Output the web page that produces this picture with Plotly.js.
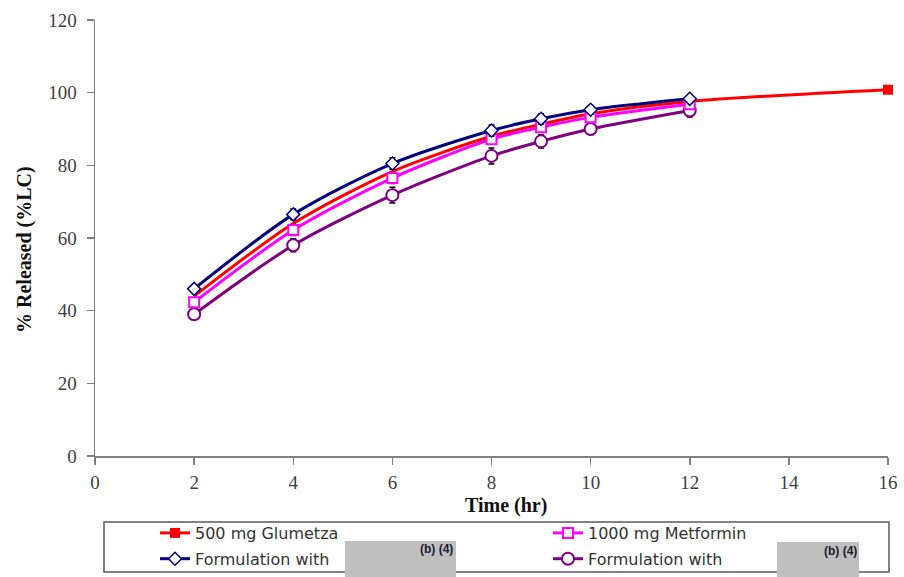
<!DOCTYPE html>
<html>
<head>
<meta charset="utf-8">
<script src="https://cdn.plot.ly/plotly-3.0.1.min.js"></script>
<style>html,body{margin:0;padding:0;background:#fff;}#chart{width:904px;height:577px;}</style>
</head>
<body>
<div id="chart"></div>
<script>
// Data
const timeRed = [2, 4, 6, 8, 9, 10, 12, 16];
const glumetza = [44, 64, 78.3, 88, 91.3, 94.2, 97.6, 100.8];

const timeLab = [2, 4, 6, 8, 9, 10, 12];
const metformin = [42.3, 62.2, 76.5, 87.2, 90.5, 93.2, 96.8];
const metforminErr = [1.2, 1.5, 1.5, 1.3, 1.2, 1.2, 1.0];
const formA = [46, 66.5, 80.5, 89.6, 92.8, 95.3, 98.3];
const formAErr = [1.0, 1.5, 1.6, 1.5, 1.4, 1.2, 1.0];
const formB = [39, 58, 71.8, 82.6, 86.6, 90, 95.1];
const formBErr = [1.2, 1.8, 2.2, 2.2, 1.8, 1.5, 1.8];

const legendNames = ["500 mg Glumetza", "1000 mg Metformin", "Formulation with ", "Formulation with "];

const W = 904, H = 577, L = 95, R = 16, T = 20, B = 0;
const pw = W - L - R, ph = H - T - B;
const px = v => (v - L) / pw;
const py = v => (H - B - v) / ph;
const axisBottom = 456;

const errStyle = {type: 'data', visible: true, color: '#000', thickness: 1.5, width: 3};

const traces = [
  {x: timeRed, y: glumetza, name: legendNames[0], mode: 'lines', type: 'scatter',
   line: {color: '#FF0000', width: 3, shape: 'spline', smoothing: 0.8},
   showlegend: false, hoverinfo: 'skip'},
  {x: timeRed.slice(-1), y: glumetza.slice(-1), name: legendNames[0], mode: 'lines+markers', type: 'scatter',
   line: {color: '#FF0000', width: 3},
   marker: {symbol: 'square', color: '#FF0000', size: 10, line: {width: 0}},
   cliponaxis: false,
   legend: 'legend', legendgroup: 'a', legendrank: 1},
  {x: timeLab, y: formB, name: legendNames[3], mode: 'lines+markers', type: 'scatter',
   line: {color: '#800080', width: 3, shape: 'spline', smoothing: 0.8},
   marker: {symbol: 'circle', color: '#fff', size: 12, line: {color: '#800080', width: 2}},
   error_y: Object.assign({array: formBErr}, errStyle),
   legend: 'legend2', legendgroup: 'd', legendrank: 2},
  {x: timeLab, y: metformin, name: legendNames[1], mode: 'lines+markers', type: 'scatter',
   line: {color: '#FF00FF', width: 3, shape: 'spline', smoothing: 0.8},
   marker: {symbol: 'square', color: '#fff', size: 10, line: {color: '#FF00FF', width: 2}},
   error_y: Object.assign({array: metforminErr}, errStyle),
   legend: 'legend2', legendgroup: 'b', legendrank: 1},
  {x: timeLab, y: formA, name: legendNames[2], mode: 'lines+markers', type: 'scatter',
   line: {color: '#000080', width: 3, shape: 'spline', smoothing: 0.8},
   marker: {symbol: 'diamond', color: '#fff', size: 10, line: {color: '#000080', width: 1.5}},
   error_y: Object.assign({array: formAErr}, errStyle),
   legend: 'legend', legendgroup: 'c', legendrank: 2}
];

const tickFont = {family: 'Liberation Serif, Times New Roman, serif', size: 19, color: '#404040'};
const legFont = {family: 'DejaVu Sans, Arial, sans-serif', size: 16, color: '#333'};

const layout = {
  width: W, height: H,
  margin: {l: L, r: R, t: T, b: B},
  paper_bgcolor: '#fff', plot_bgcolor: 'rgba(0,0,0,0)',
  showlegend: true,
  xaxis: {range: [0, 16], dtick: 2, tick0: 0, showgrid: false, zeroline: false,
          showline: true, linecolor: '#7f7f7f', linewidth: 1.5,
          ticks: 'outside', ticklen: 7, tickcolor: '#7f7f7f', tickwidth: 1.5,
          tickfont: tickFont, ticklabelstandoff: 2, automargin: false, anchor: 'y'},
  yaxis: {range: [0, 120], dtick: 20, tick0: 0, showgrid: false, zeroline: false,
          domain: [py(axisBottom), 1],
          showline: true, linecolor: '#7f7f7f', linewidth: 1.5,
          ticks: 'outside', ticklen: 7, tickcolor: '#7f7f7f', tickwidth: 1.5,
          tickfont: tickFont, ticklabelstandoff: 6, automargin: false},
  legend: {x: px(155), y: py(516), xanchor: 'left', yanchor: 'top', orientation: 'v',
           font: legFont, bgcolor: 'rgba(0,0,0,0)', borderwidth: 0, tracegroupgap: 2,
           itemclick: false, itemdoubleclick: false},
  legend2: {x: px(548), y: py(516), xanchor: 'left', yanchor: 'top', orientation: 'v',
           font: legFont, bgcolor: 'rgba(0,0,0,0)', borderwidth: 0, tracegroupgap: 2,
           itemclick: false, itemdoubleclick: false},
  shapes: [
    {type: 'rect', xref: 'paper', yref: 'paper', x0: px(104), x1: px(889), y0: py(522), y1: py(572),
     line: {color: '#5a5a5a', width: 1.5}, fillcolor: 'rgba(0,0,0,0)', layer: 'below'},
    {type: 'rect', xref: 'paper', yref: 'paper', x0: px(345), x1: px(456), y0: py(541), y1: py(577),
     line: {width: 0}, fillcolor: '#BFBFBF', layer: 'above'},
    {type: 'rect', xref: 'paper', yref: 'paper', x0: px(777), x1: px(859), y0: py(542), y1: py(577),
     line: {width: 0}, fillcolor: '#BFBFBF', layer: 'above'}
  ],
  annotations: [
    {text: '<b>Time (hr)</b>', xref: 'paper', yref: 'paper', x: px(506), y: py(505), showarrow: false,
     xanchor: 'center', yanchor: 'middle', font: {family: 'Liberation Serif, Times New Roman, serif', size: 20, color: '#111'}},
    {text: '<b>% Released (%LC)</b>', xref: 'paper', yref: 'paper', x: px(24), y: py(250), showarrow: false,
     textangle: -90, xanchor: 'center', yanchor: 'middle', font: {family: 'Liberation Serif, Times New Roman, serif', size: 20, color: '#111'}},
    {text: '<b>(b) (4)</b>', xref: 'paper', yref: 'paper', x: px(455), y: py(549), showarrow: false,
     xanchor: 'right', yanchor: 'middle', font: {family: 'Liberation Sans, Arial, sans-serif', size: 12, color: '#1a1a33'}},
    {text: '<b>(b) (4)</b>', xref: 'paper', yref: 'paper', x: px(859), y: py(551), showarrow: false,
     xanchor: 'right', yanchor: 'middle', font: {family: 'Liberation Sans, Arial, sans-serif', size: 12, color: '#1a1a33'}}
  ]
};

Plotly.newPlot('chart', traces, layout, {displayModeBar: false, staticPlot: true});
</script>
</body>
</html>
